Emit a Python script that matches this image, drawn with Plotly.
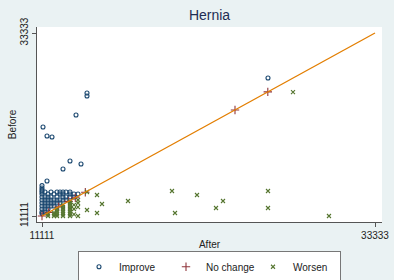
import plotly.graph_objects as go

# Improve (after, before)
imp_after = [26192, 14114, 14114, 13380, 11178, 11445, 11778, 12512, 12979, 13714, 11445,
             11111, 11111, 11111,
             11111, 11311, 11711, 12112, 12312, 12512, 12713, 12979,
             11111, 11511, 11912, 12312, 12512, 12979, 13246, 13513,
             11111, 11311, 11511, 11711, 12112, 12512, 12713, 12979, 13246,
             11111, 11311, 11511, 11711, 11912, 12112, 12312, 12512, 12713,
             11111, 11311, 11511, 11711, 11912, 12112, 12312,
             11111, 11311, 11511, 11711, 11912,
             11111, 11311, 11511,
             11111, 11311,
             11111]
imp_before = [27864, 26043, 25679, 23372, 21916, 20823, 20701, 16817, 17788, 17424, 15360,
              14800, 14510, 14250,
              14025, 14025, 14025, 14025, 14025, 14025, 14025, 14025,
              13782, 13782, 13782, 13782, 13782, 13782, 13782, 13782,
              13418, 13418, 13418, 13418, 13418, 13418, 13418, 13418, 13418,
              13053, 13053, 13053, 13053, 13053, 13053, 13053, 13053, 13053,
              12689, 12689, 12689, 12689, 12689, 12689, 12689,
              12325, 12325, 12325, 12325, 12325,
              11961, 11961, 11961,
              11597, 11597,
              11400]

# No change
nc_after = [23990, 26180, 11111, 11556, 12222, 12889, 13333, 14000]
nc_before = [23990, 26180, 11111, 11556, 12222, 12889, 13333, 14000]

# Worsen
wor_after = [11511, 11511,
             11912, 11912, 11912,
             12112, 12112, 12112, 12112, 12112,
             12512, 12512, 12512, 12512, 12512, 12512, 12512,
             12979, 12979, 12979, 12979, 12979, 12979, 12979, 12979, 12979,
             13246, 13246, 13246,
             13513, 13513, 13513, 13513,
             14114, 14114,
             14781, 15115, 14781, 16850, 19786, 19986, 21454, 22722, 23189,
             26192, 26192, 30262, 27860]
wor_before = [11111, 11311,
              11111, 11311, 11511,
              11111, 11311, 11511, 11711, 11961,
              11111, 11311, 11511, 11711, 11961, 12200, 12450,
              11111, 11311, 11511, 11711, 11961, 12200, 12450, 12689, 12900,
              11311, 11961, 12450,
              11111, 12200, 12689, 13053,
              14025, 11840,
              13660, 12568, 11475, 12932, 14146, 11475, 13660, 12082, 12932,
              14146, 12082, 11111, 26164]

line_x = [11111, 33333]
line_y = [11111, 33333]
tick_vals = [11111, 33333]
tick_text = ["11111", "33333"]

FONT = "Liberation Sans, Arial, sans-serif"
NAVY = "#1a476f"
MAROON = "#90353b"
GREEN = "#55752f"
ORANGE = "#e37e00"
BG = "#eaf2f3"
AX = "#555555"

fig = go.Figure()
fig.add_trace(go.Scatter(x=imp_after, y=imp_before, mode="markers", name="Improve",
                         marker=dict(symbol="circle-open", size=4, color=NAVY, line=dict(width=1.1))))
fig.add_trace(go.Scatter(x=nc_after, y=nc_before, mode="markers", name="No change",
                         marker=dict(symbol="cross-thin-open", size=6, color=MAROON, line=dict(width=1.1, color=MAROON))))
fig.add_trace(go.Scatter(x=wor_after, y=wor_before, mode="markers", name="Worsen",
                         marker=dict(symbol="x-thin-open", size=4, color=GREEN, line=dict(width=1.1, color=GREEN))))
fig.add_trace(go.Scatter(x=line_x, y=line_y, mode="lines", showlegend=False,
                         line=dict(color=ORANGE, width=1.3), hoverinfo="skip"))

fig.update_layout(
    width=394, height=280,
    margin=dict(l=37, r=12, t=27, b=58, autoexpand=False),
    paper_bgcolor=BG, plot_bgcolor="white",
    font=dict(family=FONT, size=10, color="#222222"),
    title=dict(text="Hernia", x=0.5, xref="paper", xanchor="center", y=1, yref="container",
               yanchor="top", pad=dict(t=10), font=dict(size=14, color="#1e2d53")),
    showlegend=True,
    legend=dict(orientation="h", x=0.5, xanchor="center", y=-0.15, yanchor="top",
                bgcolor="white", bordercolor="#777777", borderwidth=1,
                font=dict(size=10, color="#222222"), entrywidth=42, entrywidthmode="pixels",
                itemwidth=30, traceorder="normal"),
    xaxis=dict(range=[10777, 33800], tickvals=tick_vals, ticktext=tick_text,
               showgrid=False, zeroline=False, showline=True, linecolor=AX, linewidth=1,
               ticks="outside", ticklen=4, tickcolor=AX, tickfont=dict(size=10),
               title=dict(text="After", standoff=0, font=dict(size=10))),
    yaxis=dict(range=[10383, 34061], tickvals=tick_vals, ticktext=tick_text, tickangle=-90,
               showgrid=False, zeroline=False, showline=True, linecolor=AX, linewidth=1,
               ticks="outside", ticklen=4, tickcolor=AX, tickfont=dict(size=10),
               title=dict(text="Before", standoff=0, font=dict(size=10))),
)

fig.write_html("out.html")
